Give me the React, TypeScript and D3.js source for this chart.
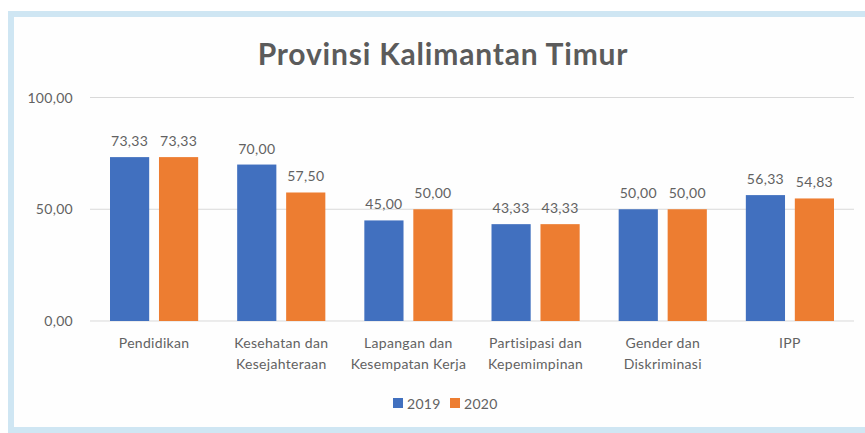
import React from "react";
import * as d3 from "d3";

const categories: string[][] = [
  ["Pendidikan"],
  ["Kesehatan dan", "Kesejahteraan"],
  ["Lapangan dan", "Kesempatan Kerja"],
  ["Partisipasi dan", "Kepemimpinan"],
  ["Gender dan", "Diskriminasi"],
  ["IPP"],
];
const series = ["2019", "2020"];
const values2019 = [73.33, 70.0, 45.0, 43.33, 50.0, 56.33];
const values2020 = [73.33, 57.5, 50.0, 43.33, 50.0, 54.83];
const yTicks = [0, 50, 100];
const title = "Provinsi Kalimantan Timur";

const W = 865;
const H = 433;
const colors = ["#4170BF", "#ED7D31"];
const textColor = "#626262";
const font = "Lato, 'Open Sans', sans-serif";

const fmt = (v: number) => v.toFixed(2).replace(".", ",");

export default function App() {
  const x0 = d3
    .scaleBand<number>()
    .domain(d3.range(categories.length))
    .range([90.5, 853.5])
    .paddingInner(0)
    .paddingOuter(0);
  const x1 = d3
    .scaleBand<number>()
    .domain([0, 1])
    .range([19.5, x0.bandwidth() - 19.5])
    .paddingInner(0.2);
  const y = d3.scaleLinear().domain([0, 100]).range([321, 97.5]);
  const data = [values2019, values2020];

  return (
    <svg
      width={W}
      height={H}
      style={{ position: "absolute", left: 0, top: 0, background: "#fff" }}
      fontFamily={font}
    >
      <rect x={0} y={0} width={W} height={H} fill="#fff" />
      {/* frame */}
      <rect x={8} y={11} width={W} height={H - 11} fill="#cfe6f3" />
      <rect x={14} y={17} width={W} height={H - 17 - 6} fill="#fefefe" />

      <text
        x={443}
        y={65}
        textAnchor="middle"
        fontSize={30}
        fontWeight={700}
        letterSpacing={0.8}
        fill="#5b5b5b"
      >
        {title}
      </text>

      {yTicks.map((t) => (
        <g key={t}>
          <line
            x1={90}
            x2={854}
            y1={y(t)}
            y2={y(t)}
            stroke="#d9d9d9"
            strokeWidth={1}
          />
          <text
            x={73}
            y={y(t) + 5}
            textAnchor="end"
            fontSize={14}
            letterSpacing={0.3}
            fill={textColor}
          >
            {fmt(t)}
          </text>
        </g>
      ))}

      {categories.map((cat, i) => (
        <g key={i} transform={`translate(${x0(i)},0)`}>
          {data.map((vals, s) => (
            <g key={s}>
              <rect
                x={x1(s)}
                y={y(vals[i])}
                width={x1.bandwidth()}
                height={y(0) - y(vals[i])}
                fill={colors[s]}
              />
              <text
                x={(x1(s) as number) + x1.bandwidth() / 2}
                y={y(vals[i]) - 11}
                textAnchor="middle"
                fontSize={14}
                letterSpacing={0.3}
                fill={textColor}
              >
                {fmt(vals[i])}
              </text>
            </g>
          ))}
          {cat.map((line, li) => (
            <text
              key={li}
              x={x0.bandwidth() / 2}
              y={348 + li * 21}
              textAnchor="middle"
              fontSize={14}
              letterSpacing={0.3}
              fill={textColor}
            >
              {line}
            </text>
          ))}
        </g>
      ))}

      {series.map((s, i) => (
        <g key={s} transform={`translate(${393 + i * 57},398)`}>
          <rect x={0} y={0} width={10} height={10} fill={colors[i]} />
          <text x={14} y={10.5} fontSize={14} letterSpacing={0.3} fill={textColor}>
            {s}
          </text>
        </g>
      ))}
    </svg>
  );
}
